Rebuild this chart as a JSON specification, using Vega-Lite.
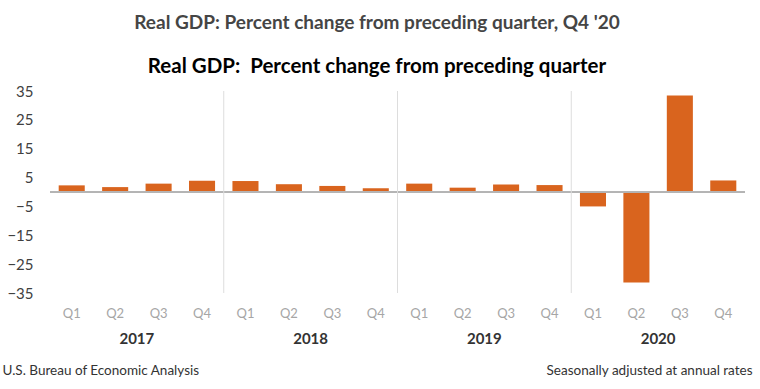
{
  "$schema": "https://vega.github.io/schema/vega-lite/v6.json",
  "width": 695,
  "height": 202,
  "autosize": {"type": "none"},
  "padding": {"left": 50, "top": 91, "right": 15, "bottom": 96},
  "background": "white",
  "config": {"view": {"stroke": null}, "font": "Lato"},
  "title": {
    "text": "Real GDP: Percent change from preceding quarter, Q4 '20",
    "subtitle": "Real GDP:\u00a0 Percent change from preceding quarter",
    "anchor": "middle",
    "frame": "bounds",
    "font": "Lato",
    "fontSize": 19,
    "fontWeight": "bold",
    "color": "#454545",
    "subtitleFont": "Lato",
    "subtitleFontSize": 20.5,
    "subtitleFontWeight": "bold",
    "subtitleColor": "#000000",
    "subtitlePadding": 24,
    "offset": 7
  },
  "datasets": {
    "gdp": [
      {"period": "2017-Q1", "value": 2.3},
      {"period": "2017-Q2", "value": 1.7},
      {"period": "2017-Q3", "value": 2.9},
      {"period": "2017-Q4", "value": 3.9},
      {"period": "2018-Q1", "value": 3.8},
      {"period": "2018-Q2", "value": 2.7},
      {"period": "2018-Q3", "value": 2.1},
      {"period": "2018-Q4", "value": 1.3},
      {"period": "2019-Q1", "value": 2.9},
      {"period": "2019-Q2", "value": 1.5},
      {"period": "2019-Q3", "value": 2.6},
      {"period": "2019-Q4", "value": 2.4},
      {"period": "2020-Q1", "value": -5.0},
      {"period": "2020-Q2", "value": -31.4},
      {"period": "2020-Q3", "value": 33.4},
      {"period": "2020-Q4", "value": 4.0}
    ],
    "years": [
      {"year": "2018"},
      {"year": "2019"},
      {"year": "2020"}
    ]
  },
  "layer": [
    {
      "data": {"name": "gdp"},
      "encoding": {
        "y": {
          "field": "value",
          "type": "quantitative",
          "scale": {"domain": [-35, 35], "nice": false, "zero": false},
          "axis": {
            "values": [-35, -25, -15, -5, 5, 15, 25, 35],
            "domain": false,
            "ticks": false,
            "grid": false,
            "labelPadding": 17,
            "labelFontSize": 15,
            "labelColor": "#404040",
            "title": null
          }
        }
      },
      "layer": [
        {
          "mark": {"type": "bar", "color": "#d9641e"},
          "encoding": {
            "x": {
              "field": "period",
              "type": "ordinal",
              "sort": null,
              "scale": {"paddingInner": 0.4, "paddingOuter": 0.2},
              "axis": {
                "orient": "bottom",
                "domain": false,
                "ticks": false,
                "grid": false,
                "labelAngle": 0,
                "labelExpr": "substring(datum.label, 5)",
                "labelPadding": 14,
                "labelFontSize": 13,
                "labelColor": "#a6a6a6",
                "title": "U.S. Bureau of Economic Analysis",
                "titleAnchor": "start",
                "titleAlign": "left",
                "titleBaseline": "middle",
                "titleX": -48,
                "titleY": 77,
                "titleFontSize": 13.5,
                "titleFontWeight": "normal",
                "titleColor": "#333333"
              }
            }
          }
        },
        {
          "mark": {"type": "rule", "color": "#b4b4b4", "strokeWidth": 1},
          "encoding": {"y": {"datum": 0}}
        }
      ]
    },
    {
      "data": {"name": "years"},
      "mark": {"type": "rule", "color": "#dddddd", "strokeWidth": 1},
      "encoding": {
        "x": {
          "field": "year",
          "type": "ordinal",
          "bandPosition": 0,
          "scale": {"domain": ["2017", "2018", "2019", "2020"], "paddingInner": 0, "paddingOuter": 0},
          "axis": {
            "orient": "bottom",
            "domain": false,
            "ticks": false,
            "grid": false,
            "labelAngle": 0,
            "labelPadding": 38,
            "labelFontSize": 15,
            "labelFontWeight": "bold",
            "labelColor": "#333333",
            "title": "Seasonally adjusted at annual rates",
            "titleAnchor": "end",
            "titleAlign": "right",
            "titleBaseline": "middle",
            "titleX": 702,
            "titleY": 77,
            "titleFontSize": 13.5,
            "titleFontWeight": "normal",
            "titleColor": "#333333"
          }
        }
      }
    }
  ],
  "resolve": {"scale": {"x": "independent"}}
}
